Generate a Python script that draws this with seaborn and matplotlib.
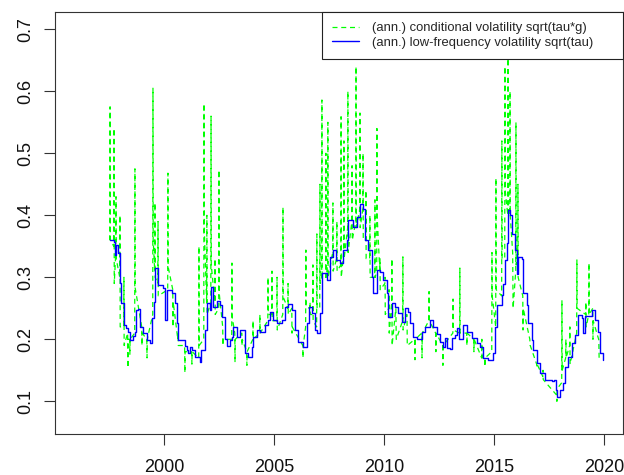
import pandas as pd
import seaborn as sns
import matplotlib
matplotlib.use("Agg")
import matplotlib.pyplot as plt

# low-frequency volatility sqrt(tau), step series
lf_year = [
    1997.55, 1997.73, 1997.77, 1997.82, 1997.91, 1998.00, 1998.05, 1998.18, 1998.27, 1998.36,
    1998.45, 1998.59, 1998.68, 1998.73, 1998.82, 1998.91, 1999.05, 1999.23, 1999.36, 1999.45,
    1999.55, 1999.59, 1999.73, 1999.95, 2000.05, 2000.14, 2000.36, 2000.50, 2000.59, 2000.64,
    2000.95, 2001.05, 2001.09, 2001.18, 2001.27, 2001.41, 2001.64, 2001.68, 2001.86, 2001.95,
    2002.09, 2002.14, 2002.23, 2002.41, 2002.55, 2002.64, 2002.77, 2002.86, 2003.00, 2003.09,
    2003.14, 2003.32, 2003.45, 2003.68, 2003.82, 2004.00, 2004.05, 2004.23, 2004.36, 2004.59,
    2004.73, 2004.82, 2004.95, 2005.14, 2005.36, 2005.50, 2005.64, 2005.82, 2005.95, 2006.09,
    2006.32, 2006.50, 2006.59, 2006.73, 2006.86, 2006.95, 2007.09, 2007.18, 2007.41, 2007.55,
    2007.68, 2007.82, 2008.00, 2008.14, 2008.32, 2008.36, 2008.59, 2008.77, 2008.91, 2009.05,
    2009.14, 2009.27, 2009.45, 2009.50, 2009.68, 2009.82, 2009.95, 2010.14, 2010.18, 2010.36,
    2010.50, 2010.64, 2010.82, 2010.95, 2011.09, 2011.18, 2011.32, 2011.50, 2011.73, 2011.86,
    2012.09, 2012.23, 2012.41, 2012.55, 2012.68, 2012.77, 2012.86, 2013.00, 2013.09, 2013.23,
    2013.32, 2013.41, 2013.59, 2013.77, 2014.00, 2014.23, 2014.36, 2014.50, 2014.73, 2014.95,
    2015.05, 2015.14, 2015.36, 2015.41, 2015.50, 2015.59, 2015.64, 2015.73, 2015.82, 2015.95,
    2016.05, 2016.09, 2016.27, 2016.32, 2016.50, 2016.55, 2016.73, 2016.77, 2016.95, 2017.09,
    2017.32, 2017.64, 2017.73, 2017.82, 2017.86, 2018.00, 2018.14, 2018.23, 2018.36, 2018.55,
    2018.68, 2018.82, 2019.00, 2019.05, 2019.14, 2019.45, 2019.59, 2019.73, 2019.82, 2019.95,
]
lf_vol = [
    0.360, 0.357, 0.336, 0.352, 0.340, 0.291, 0.258, 0.223, 0.218, 0.212,
    0.199, 0.205, 0.212, 0.247, 0.249, 0.220, 0.210, 0.199, 0.194, 0.234,
    0.260, 0.315, 0.288, 0.283, 0.231, 0.280, 0.275, 0.258, 0.226, 0.199,
    0.190, 0.183, 0.178, 0.188, 0.183, 0.171, 0.163, 0.183, 0.215, 0.258,
    0.247, 0.284, 0.252, 0.262, 0.255, 0.236, 0.200, 0.190, 0.199, 0.204,
    0.220, 0.204, 0.215, 0.178, 0.172, 0.188, 0.204, 0.215, 0.212, 0.223,
    0.231, 0.244, 0.231, 0.226, 0.231, 0.252, 0.257, 0.247, 0.215, 0.196,
    0.188, 0.226, 0.252, 0.242, 0.215, 0.210, 0.242, 0.307, 0.296, 0.333,
    0.344, 0.328, 0.323, 0.344, 0.360, 0.392, 0.381, 0.397, 0.419, 0.410,
    0.360, 0.344, 0.300, 0.274, 0.312, 0.308, 0.296, 0.274, 0.236, 0.258,
    0.252, 0.242, 0.228, 0.250, 0.244, 0.226, 0.204, 0.201, 0.212, 0.220,
    0.231, 0.220, 0.209, 0.196, 0.188, 0.202, 0.186, 0.185, 0.202, 0.207,
    0.218, 0.200, 0.223, 0.212, 0.202, 0.194, 0.188, 0.170, 0.167, 0.178,
    0.220, 0.255, 0.271, 0.290, 0.328, 0.355, 0.409, 0.400, 0.370, 0.344,
    0.306, 0.333, 0.330, 0.274, 0.255, 0.226, 0.199, 0.183, 0.162, 0.146,
    0.135, 0.132, 0.135, 0.118, 0.107, 0.118, 0.129, 0.156, 0.172, 0.194,
    0.207, 0.239, 0.235, 0.210, 0.237, 0.247, 0.231, 0.212, 0.178, 0.167,
]

# conditional volatility sqrt(tau*g): each burst read as level before, extreme, level after
burst_year = [
    1997.55, 1997.73, 1997.82, 1998.00, 1998.18, 1998.36, 1998.45, 1998.68, 1999.00, 1999.23,
    1999.50, 1999.59, 1999.73, 2000.18, 2000.41, 2000.64, 2000.95, 2001.27, 2001.59, 2001.82,
    2001.95, 2002.14, 2002.32, 2002.50, 2002.68, 2003.09, 2003.23, 2003.55, 2003.77, 2004.05,
    2004.36, 2004.73, 2004.91, 2005.14, 2005.41, 2005.64, 2005.82, 2006.32, 2006.45, 2006.64,
    2006.77, 2006.95, 2007.09, 2007.18, 2007.36, 2007.45, 2007.68, 2007.86, 2008.05, 2008.18,
    2008.36, 2008.55, 2008.73, 2008.91, 2009.05, 2009.18, 2009.36, 2009.59, 2009.68, 2009.82,
    2010.05, 2010.23, 2010.36, 2010.55, 2010.86, 2011.05, 2011.41, 2011.73, 2012.05, 2012.36,
    2012.68, 2013.14, 2013.45, 2013.77, 2014.09, 2014.45, 2014.59, 2014.91, 2015.09, 2015.36,
    2015.50, 2015.64, 2015.73, 2015.86, 2016.00, 2016.09, 2016.32, 2016.64, 2016.95, 2017.23,
    2017.86, 2018.09, 2018.27, 2018.45, 2018.77, 2019.18, 2019.32, 2019.50, 2019.77,
]
burst_before = [
    0.360, 0.350, 0.340, 0.300, 0.220, 0.210, 0.200, 0.210, 0.220, 0.200,
    0.240, 0.310, 0.290, 0.280, 0.280, 0.200, 0.190, 0.180, 0.170, 0.200,
    0.260, 0.260, 0.260, 0.250, 0.220, 0.200, 0.210, 0.210, 0.180, 0.200,
    0.210, 0.230, 0.240, 0.230, 0.240, 0.250, 0.250, 0.190, 0.220, 0.250,
    0.240, 0.220, 0.250, 0.300, 0.300, 0.320, 0.340, 0.330, 0.320, 0.340,
    0.380, 0.390, 0.390, 0.410, 0.410, 0.360, 0.330, 0.300, 0.310, 0.310,
    0.290, 0.250, 0.260, 0.250, 0.230, 0.240, 0.200, 0.210, 0.230, 0.210,
    0.190, 0.210, 0.210, 0.210, 0.200, 0.170, 0.170, 0.180, 0.220, 0.270,
    0.330, 0.400, 0.400, 0.340, 0.310, 0.330, 0.270, 0.200, 0.160, 0.140,
    0.110, 0.130, 0.170, 0.190, 0.210, 0.240, 0.240, 0.250, 0.200,
]
burst_peak = [
    0.575, 0.540, 0.430, 0.400, 0.300, 0.154, 0.175, 0.475, 0.190, 0.170,
    0.605, 0.420, 0.390, 0.468, 0.220, 0.210, 0.146, 0.160, 0.350, 0.580,
    0.400, 0.560, 0.330, 0.473, 0.190, 0.323, 0.163, 0.190, 0.158, 0.230,
    0.240, 0.300, 0.310, 0.300, 0.413, 0.290, 0.210, 0.170, 0.344, 0.260,
    0.320, 0.370, 0.450, 0.586, 0.500, 0.550, 0.420, 0.390, 0.559, 0.520,
    0.600, 0.480, 0.640, 0.565, 0.500, 0.440, 0.400, 0.425, 0.540, 0.330,
    0.300, 0.280, 0.330, 0.230, 0.333, 0.230, 0.167, 0.170, 0.277, 0.180,
    0.158, 0.265, 0.315, 0.190, 0.180, 0.200, 0.156, 0.340, 0.460, 0.520,
    0.640, 0.653, 0.600, 0.300, 0.550, 0.450, 0.215, 0.190, 0.156, 0.150,
    0.100, 0.263, 0.200, 0.220, 0.328, 0.260, 0.323, 0.200, 0.190,
]
burst_after = [
    0.360, 0.290, 0.330, 0.220, 0.190, 0.200, 0.200, 0.283, 0.210, 0.200,
    0.360, 0.300, 0.270, 0.317, 0.260, 0.190, 0.180, 0.180, 0.190, 0.380,
    0.240, 0.320, 0.240, 0.275, 0.200, 0.236, 0.200, 0.200, 0.180, 0.200,
    0.210, 0.240, 0.230, 0.215, 0.268, 0.240, 0.220, 0.190, 0.252, 0.240,
    0.230, 0.250, 0.290, 0.300, 0.300, 0.300, 0.310, 0.310, 0.300, 0.330,
    0.340, 0.360, 0.380, 0.380, 0.360, 0.330, 0.300, 0.300, 0.400, 0.280,
    0.240, 0.210, 0.190, 0.200, 0.215, 0.190, 0.200, 0.210, 0.230, 0.210,
    0.190, 0.215, 0.210, 0.210, 0.200, 0.170, 0.170, 0.270, 0.280, 0.330,
    0.440, 0.410, 0.400, 0.250, 0.320, 0.300, 0.250, 0.190, 0.160, 0.135,
    0.120, 0.150, 0.170, 0.160, 0.250, 0.220, 0.240, 0.230, 0.170,
]

x_ticks = [2000, 2005, 2010, 2015, 2020]
y_ticks = [0.1, 0.2, 0.3, 0.4, 0.5, 0.6, 0.7]

# each burst is drawn as a near-vertical up/down stroke
rows = []
for t, a, p, b in zip(burst_year, burst_before, burst_peak, burst_after):
    rows += [(t - 0.01, a), (t, p), (t + 0.01, b)]
cond_df = pd.DataFrame(rows, columns=["year", "vol"])
lf_df = pd.DataFrame({"year": lf_year, "vol": lf_vol})

sns.set_theme(style="white")
plt.rcParams["font.family"] = ["Liberation Sans", "DejaVu Sans"]

fig = plt.figure(figsize=(6.24, 4.75), dpi=100)
ax = fig.add_axes([0.0886, 0.0857, 0.9103, 0.8884])

sns.lineplot(data=cond_df, x="year", y="vol", ax=ax, color="#00FF00",
             linewidth=0.9, sort=False, estimator=None,
             label="(ann.) conditional volatility sqrt(tau*g)")
sns.lineplot(data=lf_df, x="year", y="vol", ax=ax, color="#0000FF",
             linewidth=1.0, sort=False, estimator=None, drawstyle="steps-post",
             label="(ann.) low-frequency volatility sqrt(tau)")
ax.lines[0].set_linestyle((0, (4, 3)))

ax.set_xlim(1995.06, 2020.88)
ax.set_ylim(0.0468, 0.7274)
ax.set_xticks(x_ticks)
ax.set_yticks(y_ticks)
ax.set_xticklabels([str(t) for t in x_ticks])
ax.set_yticklabels([f"{t:.1f}" for t in y_ticks])
ax.set_xlabel("")
ax.set_ylabel("")

for s in ax.spines.values():
    s.set_visible(True)
    s.set_color("#333333")
    s.set_linewidth(0.8)
ax.tick_params(axis="both", which="major", direction="out", length=8,
               width=0.8, color="#333333", labelsize=13, pad=10,
               labelcolor="#111111", bottom=True, left=True)
ax.tick_params(axis="y", labelrotation=90, pad=7)
for lbl in ax.get_yticklabels():
    lbl.set_va("center")

# legend box spans from the middle of the panel to its right edge, as in R
leg = ax.legend(loc="upper left", bbox_to_anchor=(0.4696, 0.0, 0.5304, 1.0),
                mode="expand", borderaxespad=0, fancybox=False,
                framealpha=1, edgecolor="#222222", fontsize=9.4,
                handlelength=2.1, handletextpad=0.95, borderpad=0.75,
                labelspacing=0.2)
leg.get_frame().set_linewidth(0.8)

fig.savefig("out.png", dpi=100)
